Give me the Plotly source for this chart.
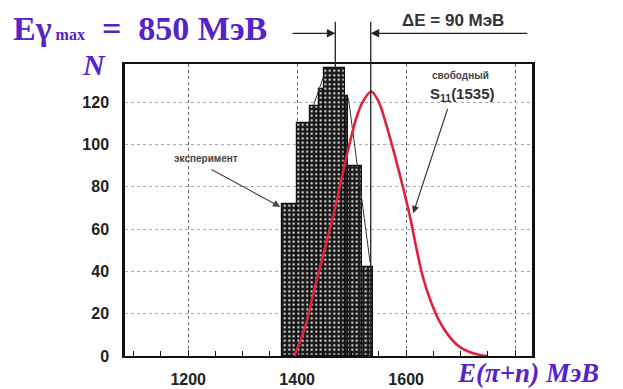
import plotly.graph_objects as go

# Experimental histogram: bin edges (MeV) and counts
bin_left = [1373, 1400, 1424, 1440, 1450, 1488, 1494, 1519]
bin_right = [1400, 1424, 1440, 1450, 1488, 1494, 1519, 1539]
counts = [72, 110, 118, 126, 136, 123, 90, 42]

# Thin outline segments drawn over the histogram
outline_e = [1428, 1451, None, 1494, 1534]
outline_n = [117, 134, None, 122, 44]

# Free S11(1535) resonance curve
curve_e = [1395, 1415, 1433, 1450, 1466, 1480, 1494, 1508, 1520, 1536, 1550,
           1565, 1580, 1594, 1607, 1618, 1630, 1645, 1660, 1677, 1695, 1715,
           1735, 1750]
curve_n = [0, 14, 33, 50, 66, 82, 98, 112, 120, 125, 120,
           108, 94, 80, 66, 52, 38, 26, 17, 10, 5, 2,
           0.5, 0]

# Axis setup
x_range = [1084, 1831]
y_max = 138
x_tickvals = [1200, 1400, 1600, 1800]
x_ticktext = ["1200", "1400", "1600", ""]
y_tickvals = [0, 20, 40, 60, 80, 100, 120]

# Markers for the energy shift
e_exp_peak = 1470
e_free_peak = 1535

violet = "#5522cc"
serif = "Liberation Serif, Times New Roman, serif"

centers = [(a + b) / 2 for a, b in zip(bin_left, bin_right)]
widths = [b - a for a, b in zip(bin_left, bin_right)]

fig = go.Figure()

fig.add_trace(go.Bar(
    x=centers, y=counts, width=widths,
    marker=dict(
        color="#1a1a1a",
        line=dict(color="#111", width=1.2),
        pattern=dict(shape=".", bgcolor="#1a1a1a", fgcolor="#eeeeee",
                     size=4.5, solidity=0.18, fillmode="replace"),
    ),
    showlegend=False, hoverinfo="skip",
))

fig.add_trace(go.Scatter(
    x=outline_e, y=outline_n, mode="lines",
    line=dict(color="#333", width=1),
    showlegend=False, hoverinfo="skip",
))

fig.add_trace(go.Scatter(
    x=curve_e, y=curve_n, mode="lines",
    line=dict(color="#e0223a", width=2.6, shape="spline", smoothing=0.8),
    showlegend=False, hoverinfo="skip",
))

# Vertical marker lines for the two peak positions
fig.add_shape(type="line", xref="x", yref="paper",
              x0=e_exp_peak, x1=e_exp_peak, y0=max(counts) / y_max, y1=1.145,
              line=dict(color="#222", width=1.3))
fig.add_shape(type="line", xref="x", yref="paper",
              x0=e_free_peak, x1=e_free_peak, y0=0, y1=1.145,
              line=dict(color="#222", width=1.3))

arrow_y = 1.105
fig.add_annotation(xref="x", yref="paper", x=e_exp_peak, y=arrow_y,
                   ax=-44, ay=0, text="", showarrow=True,
                   arrowhead=2, arrowsize=1.3, arrowwidth=1.3, arrowcolor="#222")
fig.add_annotation(xref="x", yref="paper", x=e_free_peak, y=arrow_y,
                   ax=158, ay=0, text="", showarrow=True,
                   arrowhead=2, arrowsize=1.3, arrowwidth=1.3, arrowcolor="#222")

fig.add_annotation(xref="paper", yref="paper", x=0.805, y=1.15,
                   xanchor="center", yanchor="middle",
                   text="ΔE = 90 MэВ", showarrow=False,
                   font=dict(family="Liberation Sans", size=17, color="#333",
                             weight="bold"))

fig.add_annotation(xref="paper", yref="paper", x=-0.28, y=1.122,
                   xanchor="left", yanchor="middle",
                   text="Eγ<span style='font-size:16px'> max</span>&nbsp; = &nbsp;850 MэВ",
                   showarrow=False,
                   font=dict(family=serif, size=34, color=violet,
                             weight="bold"))

fig.add_annotation(xref="paper", yref="paper", x=-0.075, y=1.0,
                   xanchor="center", yanchor="middle",
                   text="<i>N</i>", showarrow=False,
                   font=dict(family=serif, size=30, color=violet,
                             weight="bold"))

fig.add_annotation(xref="paper", yref="paper", x=0.99, y=-0.058,
                   xanchor="center", yanchor="middle",
                   text="<i>E(π+n) MэВ</i>", showarrow=False,
                   font=dict(family=serif, size=27, color=violet,
                             weight="bold"))

# Labels inside the plot
fig.add_annotation(xref="x", yref="y", x=1233, y=93.5, text="эксперимент",
                   showarrow=False,
                   font=dict(family="Liberation Sans", size=10, color="#444",
                             weight="bold"))
fig.add_annotation(xref="x", yref="y", x=1369, y=70.5, ax=1240, ay=88.5,
                   axref="x", ayref="y", text="", showarrow=True,
                   arrowhead=2, arrowsize=1.2, arrowwidth=1.2, arrowcolor="#444")

fig.add_annotation(xref="x", yref="y", x=1700, y=132.5, text="свободный",
                   showarrow=False,
                   font=dict(family="Liberation Sans", size=10, color="#444",
                             weight="bold"))
fig.add_annotation(xref="x", yref="y", x=1703, y=123.5,
                   text="S<sub>11</sub>(1535)", showarrow=False,
                   font=dict(family="Liberation Sans", size=15, color="#333",
                             weight="bold"))
fig.add_annotation(xref="x", yref="y", x=1613, y=67.5, ax=1677, ay=117.5,
                   axref="x", ayref="y", text="", showarrow=True,
                   arrowhead=2, arrowsize=1.2, arrowwidth=1.2, arrowcolor="#333")

fig.update_xaxes(
    range=x_range, tickvals=x_tickvals, ticktext=x_ticktext,
    showgrid=True, gridcolor="#666", griddash="dot", gridwidth=1.3,
    showline=True, linecolor="#111", linewidth=2, mirror=True,
    ticks="inside", ticklen=6, tickcolor="#111",
    minor=dict(ticks="inside", dtick=50, tick0=1100, ticklen=5,
               tickcolor="#111", showgrid=False),
    ticklabelstandoff=8, automargin=False,
    tickfont=dict(family="Liberation Sans", size=16, color="#222",
                  weight="bold"),
    zeroline=False,
)
fig.update_yaxes(
    range=[0, y_max], tickvals=y_tickvals,
    showgrid=True, gridcolor="#aaa", griddash="dot", gridwidth=1,
    showline=True, linecolor="#111", linewidth=2.5, mirror=True,
    ticks="", ticklabelstandoff=10, automargin=False,
    tickfont=dict(family="Liberation Sans", size=16, color="#222",
                  weight="bold"),
    zeroline=False,
)

fig.update_layout(
    width=623, height=389,
    margin=dict(l=125, r=91, t=64, b=33),
    paper_bgcolor="white", plot_bgcolor="white",
    barmode="overlay", bargap=0,
)

fig.write_html("out.html")
